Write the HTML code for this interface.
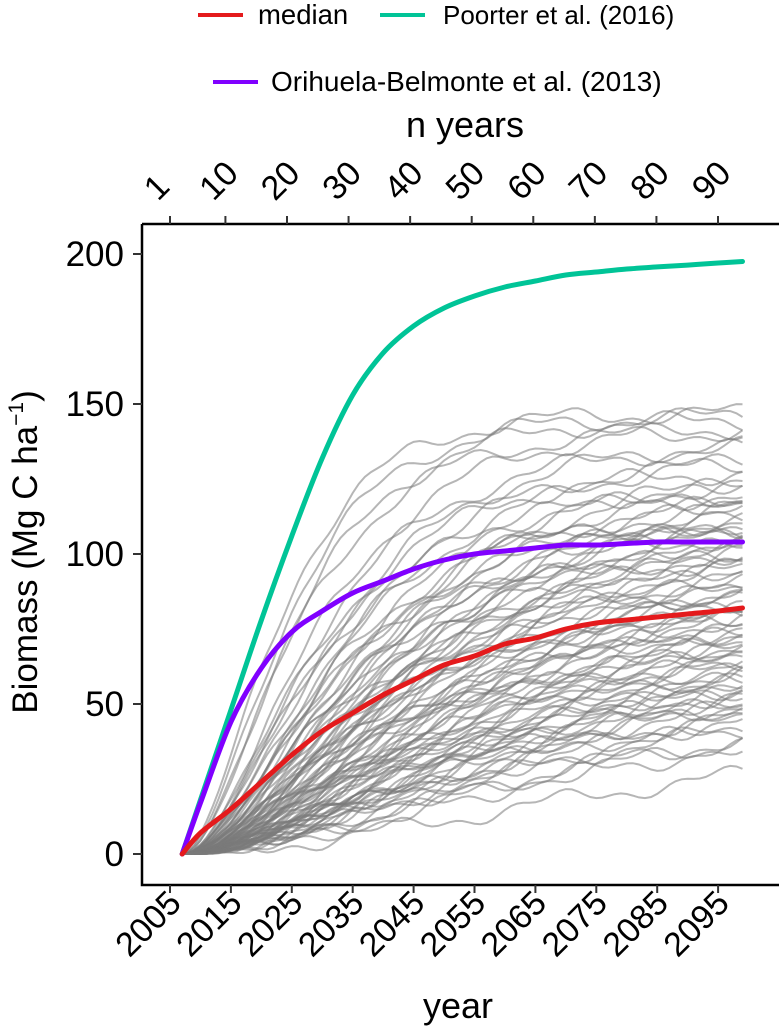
<!DOCTYPE html>
<html><head><meta charset="utf-8"><style>
body{margin:0;background:#fff;}
svg text{font-family:"Liberation Sans",sans-serif;fill:#000;}
</style></head><body>
<svg id="chart" width="779" height="1027" viewBox="0 0 779 1027" xmlns="http://www.w3.org/2000/svg">
<g id="legend">
 <g><line x1="198" y1="15" x2="243" y2="15" stroke="#e41a1c" stroke-width="4"/><text x="258" y="24" font-size="27.5">median</text></g>
 <g><line x1="380" y1="15" x2="425" y2="15" stroke="#00c497" stroke-width="4"/><text x="443" y="24" font-size="26">Poorter et al. (2016)</text></g>
 <g><line x1="213" y1="82" x2="258" y2="82" stroke="#8000ff" stroke-width="4"/><text x="271" y="91" font-size="28">Orihuela-Belmonte et al. (2013)</text></g>
</g>
<text x="465" y="137" font-size="36" text-anchor="middle">n years</text>
<text x="458" y="1018" font-size="36" text-anchor="middle">year</text>
<text transform="translate(37,552) rotate(-90)" font-size="35" text-anchor="middle">Biomass (Mg C ha<tspan font-size="21" dy="-14">−1</tspan><tspan dy="14">)</tspan></text>
<g id="plot"></g>
<g id="axes"></g>
</svg>
<script>
const years=[2007,2010,2015,2020,2025,2030,2035,2040,2045,2050,2055,2060,2065,2070,2075,2080,2085,2090,2095,2099];
const medianVals=[0,7,15,24,33,41,47,53,58,63,66,70,72,75,77,78,79,80,81,82];
const poorterVals=[0,18,48,78,106,132,153,167,176,182,186,189,191,193,194,195,195.7,196.3,197,197.5];
const orihuelaVals=[0,17,44,62,74,81,87,91,95,98,100,101,102,103,103,103.5,104,104,104,104];
const grayFinals=[147,146,145,143,141,138,136,134,132,130,128,126,125,124,123,122,121,120,119,118,117,116,115,114,113,112,111,110,109,108,107,106,105,104,103,102,101,100,99,98,97,96,95,94,93,92,91,90,89,88,87,86,85,84,83,82,81,80,79,78,77,76,75,74,73,72,71,70,69,68,67,66,65,64,63,62,61,60,59,58,57,56,55,53,51,50,48,46,41];
const grayRates=[0.07,0.065,0.06,0.05,0.06,0.045,0.05,0.04,0.045,0.035,0.05,0.04,0.03,0.045,0.035,0.04,0.03,0.05,0.035,0.04,0.03,0.045,0.035,0.03,0.04,0.028,0.035,0.045,0.03,0.04,0.032,0.028,0.04,0.035,0.03,0.025,0.038,0.03,0.035,0.028,0.032,0.025,0.03,0.035,0.028,0.025,0.03,0.032,0.026,0.03,0.028,0.024,0.03,0.026,0.028,0.025,0.03,0.024,0.027,0.025,0.028,0.023,0.026,0.025,0.024,0.027,0.022,0.025,0.024,0.023,0.025,0.022,0.024,0.023,0.022,0.025,0.021,0.023,0.022,0.024,0.02,0.022,0.021,0.02,0.022,0.018,0.02,0.019,0.015];
const xTicks=[2005,2015,2025,2035,2045,2055,2065,2075,2085,2095];
const nTicks=[1,10,20,30,40,50,60,70,80,90];
const yTicks=[0,50,100,150,200];
const NS="http://www.w3.org/2000/svg";
const X=y=>170+(y-2005)*6.09;
const Y=v=>854-v*3;
const nX=n=>170+(n-1)*(548/89);
const plot=document.getElementById('plot'), axes=document.getElementById('axes');
function mk(t,a,p){const e=document.createElementNS(NS,t);for(const k in a)e.setAttribute(k,a[k]);p.appendChild(e);return e;}
grayFinals.forEach((f,i)=>{
  const r=grayRates[i]*1.2;let d='';
  for(let yr=2007;yr<=2099;yr++){
    const t=yr-2007;
    let v=f*Math.pow(1-Math.exp(-r*t),2.1);
    v+=Math.sin(t*0.7+i*1.3)*1.2*Math.min(1,t/15)+Math.sin(t*0.23+i)*2.5*Math.min(1,t/30);
    v=Math.max(0,v);
    d+=(d?'L':'M')+X(yr).toFixed(1)+','+Y(v).toFixed(1);
  }
  const p=mk('path',{d:d,fill:'none',stroke:'#7a7a7a','stroke-opacity':'0.55','stroke-width':'2'},plot);
  
  
});
function series(vals,col,name){
  const pts=vals.map((v,i)=>[X(years[i]),Y(v)]);
  let d='M'+pts[0][0].toFixed(1)+','+pts[0][1].toFixed(1);
  for(let i=0;i<pts.length-1;i++){
    const p0=pts[Math.max(0,i-1)],p1=pts[i],p2=pts[i+1],p3=pts[Math.min(pts.length-1,i+2)];
    const c1=[p1[0]+(p2[0]-p0[0])/6,p1[1]+(p2[1]-p0[1])/6];
    const c2=[p2[0]-(p3[0]-p1[0])/6,p2[1]-(p3[1]-p1[1])/6];
    d+='C'+c1.map(n=>n.toFixed(1))+' '+c2.map(n=>n.toFixed(1))+' '+p2.map(n=>n.toFixed(1));
  }
  const p=mk('path',{d:d,fill:'none',stroke:col,'stroke-width':'5','stroke-linejoin':'round','stroke-linecap':'round'},plot);
  
  
}
series(poorterVals,'#00c497','poorter-line');
series(orihuelaVals,'#8000ff','orihuela-line');
series(medianVals,'#e41a1c','median-line');
mk('path',{d:'M142,224V885H779M142,224H779',fill:'none',stroke:'#000','stroke-width':'2.5'},axes);
xTicks.forEach(t=>{
  mk('line',{x1:X(t),x2:X(t),y1:885,y2:893,stroke:'#333','stroke-width':'2'},axes);
  const tx=mk('text',{transform:`translate(${X(t)+13},${905}) rotate(-45)`,'font-size':'34','text-anchor':'end'},axes);
  tx.textContent=t;
  
  
});
nTicks.forEach(n=>{
  mk('line',{x1:nX(n),x2:nX(n),y1:216,y2:224,stroke:'#333','stroke-width':'2'},axes);
  const tx=mk('text',{transform:`translate(${nX(n)-12},${202}) rotate(-45)`,'font-size':'34'},axes);
  tx.textContent=n;
  
  
});
yTicks.forEach(v=>{
  mk('line',{x1:133,x2:142,y1:Y(v),y2:Y(v),stroke:'#333','stroke-width':'2'},axes);
  const tx=mk('text',{x:124,y:Y(v)+12,'font-size':'35','text-anchor':'end'},axes);
  tx.textContent=v;
  
  
});
</script>
</body></html>
